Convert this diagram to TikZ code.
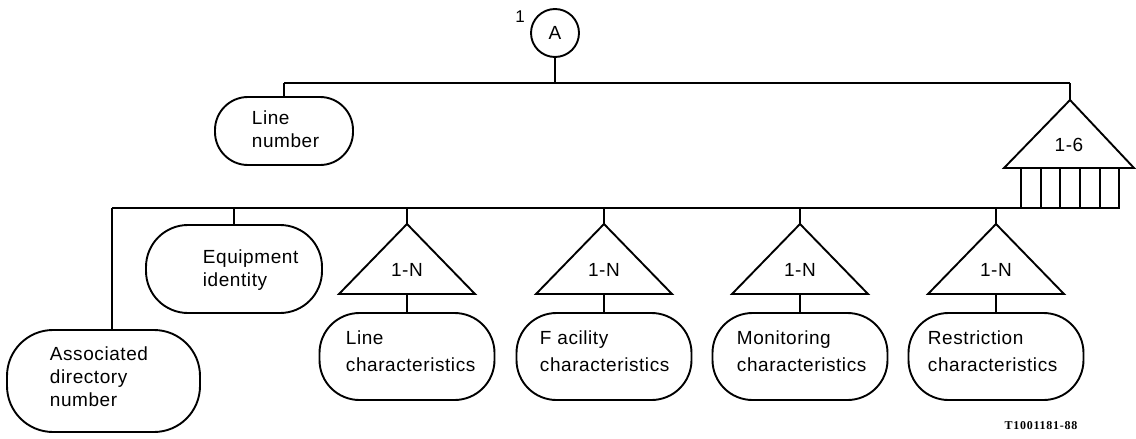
\documentclass[tikz,border=0pt]{standalone}
\usepackage{fontspec}
\setmainfont{Liberation Sans}[LetterSpace=3]
\newfontfamily\codefont{Liberation Serif}[LetterSpace=6]
\begin{document}
\begin{tikzpicture}[x=1pt,y=-1pt, line width=1.9pt,
  rbox/.style={draw, rounded corners=40pt, inner sep=0, minimum width=175pt, minimum height=87pt},
  txt/.style={font=\fontsize{19}{23}\selectfont, align=left, anchor=west, inner sep=0},
  txtl/.style={font=\fontsize{19}{27}\selectfont, align=left, anchor=west, inner sep=0},
  tlab/.style={font=\fontsize{19}{23}\selectfont, inner sep=0}]
\useasboundingbox (0,0) rectangle (1136,439);

% root
\node[draw, circle, minimum size=48pt, inner sep=0, font=\fontsize{19}{23}\selectfont] (A) at (555,33) {A};
\node[font=\fontsize{17}{17}\selectfont, inner sep=0] (one) at (520,17) {1};
\coordinate (topL) at (284,83);
\coordinate (topR) at (1070,83);
\draw (A.south) -- (A.south |- topL);
\draw (topL) -- (topR);

% Line number
\node[rbox, rounded corners=33pt, minimum width=138pt, minimum height=68pt] (ln) at (284,131) {};
\node[txt] (lnt) at (251,129) {Line\\number};
\draw (topL) -- (ln.north);

% 1-6 triangle with comb
\coordinate (t6a) at (1070,100);
\draw (topR) -- (t6a);
\draw (t6a) -- (1134,168) -- (1004,168) -- cycle;
\node[tlab] (t6l) at (1069,145) {1-6};
\draw (1021,168) rectangle (1119,208);
\foreach \cx in {1041,1060,1080,1100} \draw (\cx,168) -- (\cx,208);

% bus
\coordinate (bL) at (112,208);
\coordinate (bR) at (1021,208);
\draw (bL) -- (bR);

% Associated directory number
\node[rbox, rounded corners=46pt, minimum width=193pt, minimum height=102pt] (adn) at (103.5,381) {};
\node[txt] (adnt) at (49,377) {Associated\\directory\\number};
\draw (bL) -- (bL |- adn.north);

% Equipment identity
\node[rbox, rounded corners=42pt, minimum width=176pt, minimum height=88pt] (eq) at (234,269) {};
\node[txt] (eqt) at (202,270) {Equipment\\identity};
\draw (bL -| eq.north) -- (eq.north);

% 1-N triangles and boxes
\foreach \nm/\cx/\tx/\lab in {lc/407/345/{Line\\characteristics},
                               fc/604/539/{F acility\\characteristics},
                               mc/800/736/{Monitoring\\characteristics},
                               rc/996/927/{Restriction\\characteristics}} {
  \coordinate (\nm a) at (\cx,224);
  \coordinate (\nm b) at (\cx,294);
  \draw (\cx,208) -- (\nm a);
  \draw (\nm a) -- (\cx+68,294) -- (\cx-68,294) -- cycle;
  \node[tlab] (\nm l) at (\cx,270) {1-N};
  \node[rbox] (\nm) at (\cx,356.5) {};
  \draw (\nm b) -- (\nm.north);
  \node[txtl] (\nm t) at (\tx,351) {\lab};
}

\node[font=\codefont\bfseries\fontsize{12}{12}\selectfont, inner sep=0] (code) at (1041,426) {T1001181-88};
\end{tikzpicture}
\end{document}
